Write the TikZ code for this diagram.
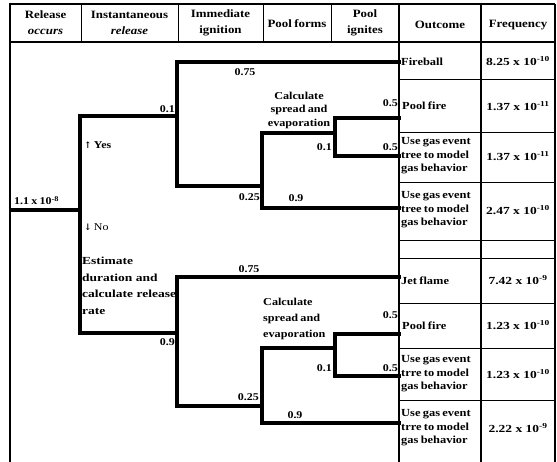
\documentclass[tikz,border=0pt]{standalone}
\usepackage{fontspec}
\setmainfont{Liberation Serif}
\newfontfamily\wf{Liberation Serif}[FakeStretch=1.15]
\newfontfamily\wwf{Liberation Serif}[FakeStretch=1.25]
\newfontfamily\tf{Liberation Serif}[FakeStretch=1.15, WordSpace=0.75]
\newfontfamily\arrowfont{DejaVu Serif}
\begin{document}
\begin{tikzpicture}[x=1pt,y=-1pt,
  tree/.style={line width=4.2pt, line cap=rect},
  frameline/.style={line width=1.6pt},
  thinline/.style={line width=0.9pt},
  hdr/.style={font=\wf\fontsize{11.2}{16}\selectfont\bfseries, align=center, inner sep=0pt},
  txt/.style={font=\tf\fontsize{10.8}{13.5}\selectfont\bfseries, inner sep=0pt},
  frq/.style={font=\wwf\fontsize{10.8}{12}\selectfont\bfseries, inner sep=0pt},
  lab/.style={font=\wf\fontsize{10.4}{12}\selectfont\bfseries, inner sep=0pt}]
\useasboundingbox (0,0) rectangle (557,462);
% frame
\draw[line width=2.6pt] (10,3) -- (10,462);
\draw[frameline] (10,4) -- (555,4);
\draw[frameline] (555,4) -- (555,462);
\draw[frameline] (10,42) -- (555,42);
\foreach \cx in {81,178,263,331} \draw[thinline] (\cx,4) -- (\cx,42);
\draw[frameline] (399,4) -- (399,462);
\draw[line width=2pt] (481,4) -- (481,462);
\foreach \ry in {79,132,182,240,258,303,348,400} \draw[thinline] (399,\ry) -- (555,\ry);
% header
\node[hdr] (h1) at (45.5,23) {Release\\\textit{occurs}};
\node[hdr] (h2) at (129.5,23) {Instantaneous\\\textit{release}};
\node[hdr] (h3) at (220.5,23) {Immediate\\ignition};
\node[hdr] (h4) at (297,24) {Pool forms};
\node[hdr] (h5) at (365,23) {Pool\\ignites};
\node[hdr] (h6) at (440,25) {Outcome};
\node[hdr] (h7) at (518,25) {Frequency};
% outcomes
\coordinate (ob) at (399,0);
\node[txt, anchor=west, align=left] (o1) at (401,61.5) {Fireball};
\node[txt, anchor=west, align=left] (o2) at (402,106) {Pool fire};
\node[txt, anchor=west, align=left] (o3) at (401,156) {Use gas event\\tree to model\\gas behavior};
\node[txt, anchor=west, align=left] (o4) at (401,210) {Use gas event\\tree to model\\gas behavior};
\node[txt, anchor=west, align=left] (o5) at (401,280.5) {Jet flame};
\node[txt, anchor=west, align=left] (o6) at (402,325.5) {Pool fire};
\node[txt, anchor=west, align=left] (o7) at (401,374) {Use gas event\\trre to model\\gas behavior};
\node[txt, anchor=west, align=left] (o8) at (401,428) {Use gas event\\trre to model\\gas behavior};
% frequencies
\node[frq] (f1) at (518,61.5) {8.25 x 10\textsuperscript{-10}};
\node[frq] (f2) at (518,106) {1.37 x 10\textsuperscript{-11}};
\node[frq] (f3) at (518,156) {1.37 x 10\textsuperscript{-11}};
\node[frq] (f4) at (518,210) {2.47 x 10\textsuperscript{-10}};
\node[frq] (f5) at (518,280.5) {7.42 x 10\textsuperscript{-9}};
\node[frq] (f6) at (518,325.5) {1.23 x 10\textsuperscript{-10}};
\node[frq] (f7) at (518,374) {1.23 x 10\textsuperscript{-10}};
\node[frq] (f8) at (518,428) {2.22 x 10\textsuperscript{-9}};
% tree coordinates
\coordinate (t0) at (12,210);
\coordinate (t1) at (80,210);
\coordinate (yesC) at (80,116);
\coordinate (noC) at (80,333);
\coordinate (u1) at (177,116);
\coordinate (u1t) at (177,62);
\coordinate (u1b) at (177,186);
\coordinate (u2) at (262,186);
\coordinate (u2t) at (262,133);
\coordinate (u2b) at (262,208);
\coordinate (u3) at (335,133);
\coordinate (u3t) at (335,118);
\coordinate (u3b) at (335,156);
\coordinate (l1) at (177,333);
\coordinate (l1t) at (177,277);
\coordinate (l1b) at (177,406);
\coordinate (l2) at (262,406);
\coordinate (l2t) at (262,348);
\coordinate (l2b) at (262,423);
\coordinate (l3) at (335,348);
\coordinate (l3t) at (335,334);
\coordinate (l3b) at (335,376);
% tree lines
\draw[tree] (t0) -- (t1);
\draw[tree] (yesC) -- (noC);
\draw[tree] (yesC) -- (u1);
\draw[tree] (u1t) -- (u1b);
\draw[tree] (u1t) -- (u1t -| ob);
\draw[tree] (u1b) -- (u2);
\draw[tree] (u2t) -- (u2b);
\draw[tree] (u2b) -- (u2b -| ob);
\draw[tree] (u2t) -- (u3);
\draw[tree] (u3t) -- (u3b);
\draw[tree] (u3t) -- (u3t -| ob);
\draw[tree] (u3b) -- (u3b -| ob);
\draw[tree] (noC) -- (l1);
\draw[tree] (l1t) -- (l1b);
\draw[tree] (l1t) -- (l1t -| ob);
\draw[tree] (l1b) -- (l2);
\draw[tree] (l2t) -- (l2b);
\draw[tree] (l2b) -- (l2b -| ob);
\draw[tree] (l2t) -- (l3);
\draw[tree] (l3t) -- (l3b);
\draw[tree] (l3t) -- (l3t -| ob);
\draw[tree] (l3b) -- (l3b -| ob);
% labels
\node[lab, anchor=south west] (rate) at (14,205) {1.1 x 10\textsuperscript{-8}};
\node[lab, anchor=west] (yes) at (84,145) {{\arrowfont\fontsize{9}{9}\selectfont ↑}\ Yes};
\node[lab, anchor=west] (no) at (84,227) {{\arrowfont\fontsize{9}{9}\selectfont ↓}\ \mdseries No};
\node[lab, anchor=north west, align=left, font=\wwf\fontsize{10.8}{16.5}\selectfont\bfseries] (est) at (82,257) {Estimate\\duration and\\calculate release\\rate};
\node[lab, anchor=south east] (p1) at (175,113) {0.1};
\node[lab, anchor=north east] (p2) at (175,338) {0.9};
\node[lab] (p3) at (245,72) {0.75};
\node[lab, anchor=north east] (p4) at (260,193) {0.25};
\node[lab] (p5) at (296,198) {0.9};
\node[lab, align=center, font=\wf\fontsize{10.6}{13.5}\selectfont\bfseries] (calc1) at (299,110) {Calculate\\spread and\\evaporation};
\node[lab, anchor=east] (p6) at (398,103) {0.5};
\node[lab, anchor=east] (p7) at (332,147) {0.1};
\node[lab, anchor=east] (p8) at (398,147) {0.5};
\node[lab] (q3) at (249,269) {0.75};
\node[lab, anchor=east] (q4) at (259,397) {0.25};
\node[lab] (q5) at (295,415) {0.9};
\node[lab, anchor=north west, align=left, font=\wf\fontsize{10.6}{16}\selectfont\bfseries] (calc2) at (263,298) {Calculate\\spread and\\evaporation};
\node[lab, anchor=east] (q6) at (398,315) {0.5};
\node[lab, anchor=east] (q7) at (332,368) {0.1};
\node[lab, anchor=east] (q8) at (398,368) {0.5};
\end{tikzpicture}
\end{document}
